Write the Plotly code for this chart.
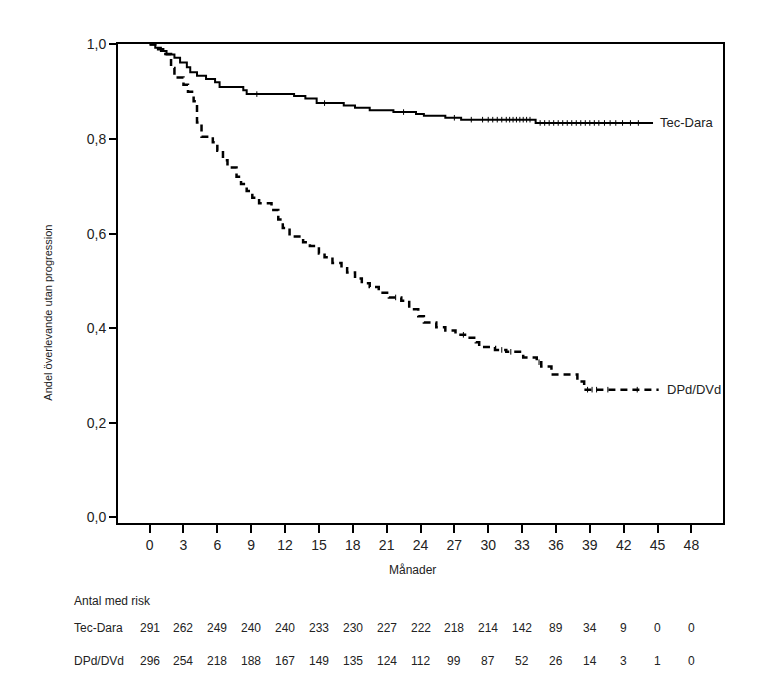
import plotly.graph_objects as go
import numpy as np

# Kaplan-Meier steg (tid i månader, andel efter steget)
tec_tid = [0, 0.5, 1.0, 1.5, 2.2, 2.7, 3.3, 3.6, 4.2, 5.0, 5.8, 6.2, 8.3, 8.6,
           12.8, 13.8, 14.8, 17.2, 18.2, 19.5, 21.6, 23.6, 24.3, 26.2, 27.6, 34.2, 44.6]
tec_andel = [1.0, 0.993, 0.986, 0.979, 0.972, 0.962, 0.952, 0.941, 0.934, 0.927, 0.920, 0.910, 0.903, 0.895,
             0.891, 0.886, 0.876, 0.871, 0.866, 0.861, 0.857, 0.853, 0.849, 0.845, 0.841, 0.834, 0.834]
tec_censur = [9.5, 15.5, 22.5, 27.0, 28.5, 29.5, 30.0, 30.4, 30.8, 31.2, 31.6, 31.9, 32.2, 32.5, 32.8,
              33.1, 33.4, 33.7, 34.6, 35.0, 35.4, 35.8, 36.2, 36.6, 37.0, 37.4, 37.8, 38.2, 38.6,
              39.0, 39.4, 39.8, 40.3, 40.8, 41.3, 41.9, 42.6, 43.3]

dpd_tid = [0, 0.5, 1.2, 1.9, 2.2, 3.0, 3.4, 3.9, 4.2, 4.6, 5.6, 6.0, 6.5, 6.9, 7.7, 8.1, 8.6, 9.1,
           9.7, 10.8, 11.4, 11.8, 12.4, 13.6, 14.2, 15.0, 15.5, 16.2, 17.0, 17.5, 18.2, 18.8, 19.5,
           20.3, 21.2, 22.3, 23.0, 23.8, 24.3, 25.4, 26.2, 27.1, 28.1, 28.9, 29.2, 30.6, 31.6, 33.1,
           34.3, 34.7, 35.6, 37.9, 38.5, 45.1]
dpd_andel = [1.0, 0.99, 0.98, 0.95, 0.93, 0.915, 0.90, 0.88, 0.835, 0.805, 0.793, 0.775, 0.755, 0.74,
             0.72, 0.705, 0.69, 0.676, 0.664, 0.650, 0.63, 0.612, 0.594, 0.582, 0.574, 0.558, 0.550,
             0.538, 0.527, 0.518, 0.505, 0.495, 0.487, 0.475, 0.465, 0.458, 0.44, 0.425, 0.412, 0.402,
             0.395, 0.386, 0.380, 0.370, 0.360, 0.354, 0.350, 0.338, 0.328, 0.319, 0.302, 0.287, 0.270, 0.270]
dpd_censur = [21.8, 27.8, 31.2, 32.0, 34.5, 38.8, 39.2, 39.6, 40.6, 43.2]

# antal med risk
risk_tider = [0, 3, 6, 9, 12, 15, 18, 21, 24, 27, 30, 33, 36, 39, 42, 45, 48]
risk_tec = [291, 262, 249, 240, 240, 233, 230, 227, 222, 218, 214, 142, 89, 34, 9, 0, 0]
risk_dpd = [296, 254, 218, 188, 167, 149, 135, 124, 112, 99, 87, 52, 26, 14, 3, 1, 0]

TXT = "#222"
FONT = "Liberation Sans"


def andel_vid(tider, andelar, t):
    idx = np.searchsorted(np.array(tider), np.array(t), side="right") - 1
    return np.array(andelar)[idx]


fig = go.Figure()

fig.add_trace(go.Scatter(x=tec_tid, y=tec_andel, mode="lines", line_shape="hv",
                         line=dict(color="black", width=2), showlegend=False, hoverinfo="skip"))
fig.add_trace(go.Scatter(x=tec_censur, y=andel_vid(tec_tid, tec_andel, tec_censur), mode="markers",
                         marker=dict(symbol="line-ns", size=4, line=dict(color="black", width=1)),
                         showlegend=False, hoverinfo="skip"))

fig.add_trace(go.Scatter(x=dpd_tid, y=dpd_andel, mode="lines", line_shape="hv",
                         line=dict(color="black", width=2.5, dash="7px,5px"), showlegend=False, hoverinfo="skip"))
fig.add_trace(go.Scatter(x=dpd_censur, y=andel_vid(dpd_tid, dpd_andel, dpd_censur), mode="markers",
                         marker=dict(symbol="line-ns", size=4, line=dict(color="black", width=1)),
                         showlegend=False, hoverinfo="skip"))


def txt(text, x, y, xref="paper", xanchor="center", size=13, **kw):
    return dict(text=text, x=x, y=y, xref=xref, yref="paper", xanchor=xanchor, yanchor="middle",
                showarrow=False, font=dict(size=size, color=TXT), **kw)


annotations = [
    dict(text="Tec-Dara", x=45.0, y=tec_andel[-1], xref="x", yref="y", xanchor="left", yanchor="middle",
         showarrow=False, font=dict(size=13, color=TXT)),
    dict(text="DPd/DVd", x=45.65, y=dpd_andel[-1], xref="x", yref="y", xanchor="left", yanchor="middle",
         showarrow=False, font=dict(size=13, color=TXT)),
    txt("Andel överlevande utan progression", -0.115, 0.44, size=11, textangle=-90),
    txt("Månader", 0.486, -0.098, size=12),
    txt("Antal med risk", -0.076, -0.163, xanchor="left", size=12),
    txt("Tec-Dara", -0.076, -0.219, xanchor="left", size=12),
    txt("DPd/DVd", -0.076, -0.288, xanchor="left", size=12),
]
for t, a, b in zip(risk_tider, risk_tec, risk_dpd):
    annotations.append(txt(str(a), t, -0.219, xref="x", size=12))
    annotations.append(txt(str(b), t, -0.288, xref="x", size=12))

fig.update_layout(
    width=753, height=689,
    margin=dict(l=110, r=38, t=36, b=174),
    plot_bgcolor="white", paper_bgcolor="white",
    separators=", ",
    font=dict(family=FONT, size=14, color=TXT),
    annotations=annotations,
    xaxis=dict(range=[-2.8, 50.8], tickvals=risk_tider, showgrid=False, zeroline=False,
               showline=True, mirror=True, linecolor="black", linewidth=2,
               ticks="outside", ticklen=8, tickwidth=2, tickcolor="black",
               tickfont=dict(size=14, color=TXT)),
    yaxis=dict(range=[-0.012, 1.001], tickvals=[0, 0.2, 0.4, 0.6, 0.8, 1.0], tickformat=".1f",
               showgrid=False, zeroline=False,
               showline=True, mirror=True, linecolor="black", linewidth=2,
               ticks="outside", ticklen=7, tickwidth=2, tickcolor="black",
               tickfont=dict(size=14, color=TXT)),
)

fig.write_html("out.html")
